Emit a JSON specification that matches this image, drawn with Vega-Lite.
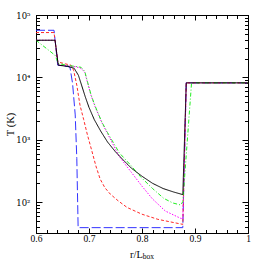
{
  "$schema": "https://vega.github.io/schema/vega-lite/v6.json",
  "width": 212,
  "height": 218,
  "autosize": "none",
  "padding": {"left": 36, "top": 15, "right": 14, "bottom": 29},
  "config": {
    "view": {"stroke": "black", "strokeWidth": 1},
    "axis": {
      "domainColor": "black",
      "tickColor": "black",
      "labelColor": "black",
      "titleColor": "black",
      "labelFont": "Liberation Serif",
      "titleFont": "Liberation Serif",
      "labelFontSize": 9.5,
      "titleFontSize": 10.5,
      "titleFontWeight": "normal",
      "grid": false,
      "labelOverlap": false,
      "labelFlush": false
    }
  },
  "data": {
    "values": [
      {"s": "a", "r": 0.6, "T": 56900}, {"s": "a", "r": 0.634, "T": 56900}, {"s": "a", "r": 0.641, "T": 15700},
      {"s": "a", "r": 0.652, "T": 15300}, {"s": "a", "r": 0.664, "T": 14700}, {"s": "a", "r": 0.669, "T": 8000},
      {"s": "a", "r": 0.674, "T": 2500}, {"s": "a", "r": 0.677, "T": 500}, {"s": "a", "r": 0.6795, "T": 39},
      {"s": "a", "r": 0.877, "T": 39}, {"s": "a", "r": 0.8835, "T": 8170}, {"s": "a", "r": 1.0, "T": 8170},

      {"s": "b", "r": 0.6, "T": 52300}, {"s": "b", "r": 0.634, "T": 52300}, {"s": "b", "r": 0.641, "T": 17700},
      {"s": "b", "r": 0.655, "T": 16500}, {"s": "b", "r": 0.666, "T": 15700}, {"s": "b", "r": 0.671, "T": 13000},
      {"s": "b", "r": 0.677, "T": 7500}, {"s": "b", "r": 0.683, "T": 3590}, {"s": "b", "r": 0.69, "T": 2100},
      {"s": "b", "r": 0.697, "T": 1200}, {"s": "b", "r": 0.705, "T": 680}, {"s": "b", "r": 0.713, "T": 380},
      {"s": "b", "r": 0.721, "T": 235}, {"s": "b", "r": 0.73, "T": 170}, {"s": "b", "r": 0.74, "T": 135},
      {"s": "b", "r": 0.755, "T": 105}, {"s": "b", "r": 0.772, "T": 82}, {"s": "b", "r": 0.8, "T": 64},
      {"s": "b", "r": 0.83, "T": 53}, {"s": "b", "r": 0.86, "T": 47}, {"s": "b", "r": 0.877, "T": 44},
      {"s": "b", "r": 0.8835, "T": 8170}, {"s": "b", "r": 1.0, "T": 8170},

      {"s": "c", "r": 0.6, "T": 39400}, {"s": "c", "r": 0.636, "T": 39400}, {"s": "c", "r": 0.642, "T": 15700},
      {"s": "c", "r": 0.66, "T": 15300}, {"s": "c", "r": 0.675, "T": 14800}, {"s": "c", "r": 0.685, "T": 14000},
      {"s": "c", "r": 0.692, "T": 12000}, {"s": "c", "r": 0.698, "T": 7800}, {"s": "c", "r": 0.704, "T": 5100},
      {"s": "c", "r": 0.712, "T": 3300}, {"s": "c", "r": 0.724, "T": 1900}, {"s": "c", "r": 0.735, "T": 1250},
      {"s": "c", "r": 0.757, "T": 540}, {"s": "c", "r": 0.78, "T": 300}, {"s": "c", "r": 0.8, "T": 180},
      {"s": "c", "r": 0.82, "T": 112}, {"s": "c", "r": 0.844, "T": 72}, {"s": "c", "r": 0.86, "T": 62},
      {"s": "c", "r": 0.873, "T": 55}, {"s": "c", "r": 0.877, "T": 54}, {"s": "c", "r": 0.8835, "T": 8170},
      {"s": "c", "r": 1.0, "T": 8170},

      {"s": "d", "r": 0.6, "T": 39400}, {"s": "d", "r": 0.636, "T": 22600}, {"s": "d", "r": 0.642, "T": 16700},
      {"s": "d", "r": 0.66, "T": 15500}, {"s": "d", "r": 0.675, "T": 15000}, {"s": "d", "r": 0.685, "T": 14500},
      {"s": "d", "r": 0.692, "T": 12500}, {"s": "d", "r": 0.698, "T": 8000}, {"s": "d", "r": 0.704, "T": 5200},
      {"s": "d", "r": 0.712, "T": 3400}, {"s": "d", "r": 0.724, "T": 1940}, {"s": "d", "r": 0.735, "T": 1300},
      {"s": "d", "r": 0.757, "T": 620}, {"s": "d", "r": 0.78, "T": 380}, {"s": "d", "r": 0.797, "T": 256},
      {"s": "d", "r": 0.82, "T": 165}, {"s": "d", "r": 0.841, "T": 115}, {"s": "d", "r": 0.858, "T": 97},
      {"s": "d", "r": 0.873, "T": 90}, {"s": "d", "r": 0.877, "T": 102}, {"s": "d", "r": 0.8935, "T": 8170},
      {"s": "d", "r": 1.0, "T": 8170},

      {"s": "e", "r": 0.6, "T": 39400}, {"s": "e", "r": 0.636, "T": 39400}, {"s": "e", "r": 0.642, "T": 15700},
      {"s": "e", "r": 0.66, "T": 15000}, {"s": "e", "r": 0.672, "T": 14000}, {"s": "e", "r": 0.68, "T": 10800},
      {"s": "e", "r": 0.686, "T": 7500}, {"s": "e", "r": 0.693, "T": 4870}, {"s": "e", "r": 0.7, "T": 3300},
      {"s": "e", "r": 0.71, "T": 2100}, {"s": "e", "r": 0.722, "T": 1380}, {"s": "e", "r": 0.735, "T": 920},
      {"s": "e", "r": 0.75, "T": 640}, {"s": "e", "r": 0.765, "T": 470}, {"s": "e", "r": 0.78, "T": 350},
      {"s": "e", "r": 0.8, "T": 260}, {"s": "e", "r": 0.82, "T": 200}, {"s": "e", "r": 0.84, "T": 165},
      {"s": "e", "r": 0.86, "T": 145}, {"s": "e", "r": 0.877, "T": 132}, {"s": "e", "r": 0.8835, "T": 8170},
      {"s": "e", "r": 1.0, "T": 8170}
    ]
  },
  "layer": [
    {
      "mark": {"type": "line", "strokeWidth": 1},
      "encoding": {
        "x": {
          "field": "r", "type": "quantitative",
          "scale": {"domain": [0.6, 1.0], "nice": false, "zero": false},
          "axis": {
            "values": [0.6, 0.62, 0.64, 0.66, 0.68, 0.7, 0.72, 0.74, 0.76, 0.78, 0.8, 0.82, 0.84, 0.86, 0.88, 0.9, 0.92, 0.94, 0.96, 0.98, 1.0],
            "labelExpr": "abs(datum.value*10 - round(datum.value*10)) < 0.001 ? format(datum.value, '~g') : ''",
            "tickSize": {"condition": {"test": "abs(datum.value*10 - round(datum.value*10)) < 0.001", "value": -5}, "value": -3.5},
            "labelPadding": 5,
            "title": "r/L",
            "titleX": 100,
            "titleY": 24,
            "titleBaseline": "alphabetic",
            "titleAlign": "center"
          }
        },
        "y": {
          "field": "T", "type": "quantitative",
          "scale": {"type": "log", "domain": [32, 100000], "nice": false},
          "axis": {
            "values": [40, 50, 60, 70, 80, 90, 100, 200, 300, 400, 500, 600, 700, 800, 900, 1000, 2000, 3000, 4000, 5000, 6000, 7000, 8000, 9000, 10000, 20000, 30000, 40000, 50000, 60000, 70000, 80000, 90000, 100000],
            "labelExpr": "datum.value == 100 ? '10\u00b2' : datum.value == 1000 ? '10\u00b3' : datum.value == 10000 ? '10\u2074' : datum.value == 100000 ? '10\u2075' : ''",
            "labelFont": "DejaVu Serif",
            "labelFontSize": 8.5,
            "tickSize": {"condition": {"test": "datum.value == 100 || datum.value == 1000 || datum.value == 10000 || datum.value == 100000", "value": -6}, "value": -3.5},
            "labelPadding": 12,
            "title": "T (K)",
            "titleX": -26,
            "titleY": 109,
            "titleAngle": -90,
            "titleAlign": "center",
            "titleBaseline": "middle"
          }
        },
        "color": {
          "field": "s", "type": "nominal", "legend": null,
          "scale": {"domain": ["a", "b", "c", "d", "e"], "range": ["#3333ff", "#ff2a2a", "#ff00ff", "#22ee22", "#000000"]}
        },
        "strokeDash": {
          "field": "s", "type": "nominal", "legend": null,
          "scale": {"domain": ["a", "b", "c", "d", "e"], "range": [[9, 3], [3, 2], [1.5, 1.5], [4, 2, 1, 2], [1, 0]]}
        }
      }
    },
    {
      "mark": {"type": "line", "strokeOpacity": 0},
      "encoding": {
        "x": {
          "field": "r", "type": "quantitative",
          "axis": {
            "orient": "top",
            "values": [0.6, 0.62, 0.64, 0.66, 0.68, 0.7, 0.72, 0.74, 0.76, 0.78, 0.8, 0.82, 0.84, 0.86, 0.88, 0.9, 0.92, 0.94, 0.96, 0.98, 1.0],
            "labels": false,
            "title": null,
            "tickSize": {"condition": {"test": "abs(datum.value*10 - round(datum.value*10)) < 0.001", "value": -5}, "value": -3.5}
          }
        },
        "y": {
          "field": "T", "type": "quantitative",
          "axis": {
            "orient": "right",
            "values": [40, 50, 60, 70, 80, 90, 100, 200, 300, 400, 500, 600, 700, 800, 900, 1000, 2000, 3000, 4000, 5000, 6000, 7000, 8000, 9000, 10000, 20000, 30000, 40000, 50000, 60000, 70000, 80000, 90000, 100000],
            "labels": false,
            "title": null,
            "tickSize": {"condition": {"test": "datum.value == 100 || datum.value == 1000 || datum.value == 10000 || datum.value == 100000", "value": -6}, "value": -3.5}
          }
        },
        "detail": {"field": "s"}
      }
    },
    {
      "data": {"values": [{"label": "box"}]},
      "mark": {"type": "text", "font": "Liberation Serif", "fontSize": 7.5, "align": "left", "baseline": "alphabetic", "color": "black"},
      "encoding": {
        "x": {"datum": 0.8015, "axis": null},
        "y": {"datum": 12.1, "axis": null},
        "text": {"field": "label"}
      }
    }
  ],
  "resolve": {"axis": {"x": "independent", "y": "independent"}}
}
